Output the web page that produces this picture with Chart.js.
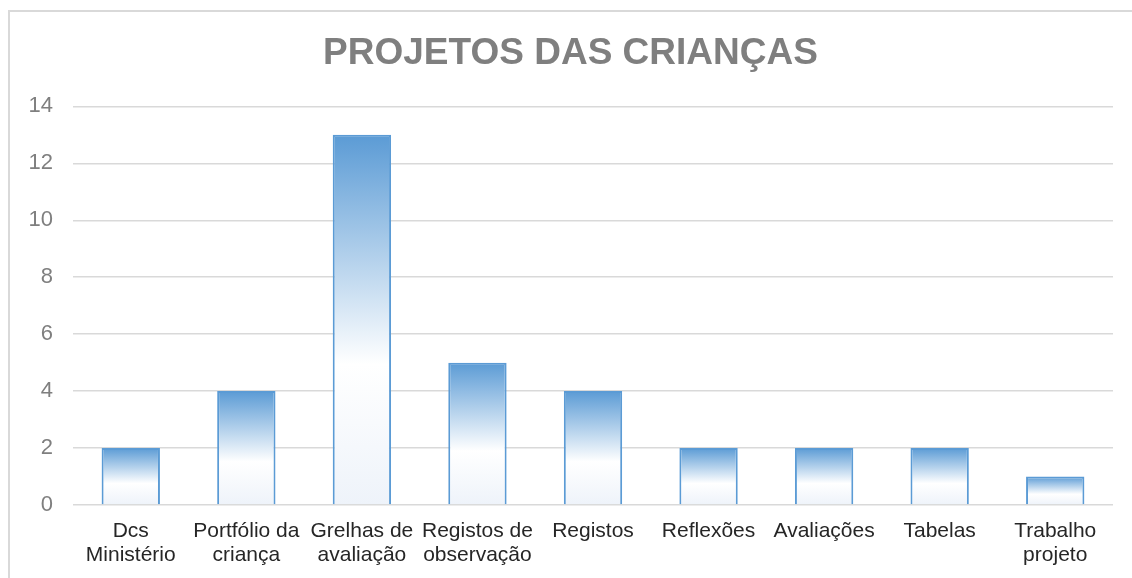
<!DOCTYPE html>
<html>
<head>
<meta charset="utf-8">
<script src="https://cdn.jsdelivr.net/npm/chart.js@4/dist/chart.umd.min.js"></script>
<style>
html,body{margin:0;padding:0;background:#fff;}
#wrap{width:1132px;height:578px;position:relative;}
</style>
</head>
<body>
<div id="wrap"><canvas id="c" width="1132" height="578"></canvas></div>
<script>
const categories = [
  ["Dcs", "Ministério"],
  ["Portfólio da", "criança"],
  ["Grelhas de", "avaliação"],
  ["Registos de", "observação"],
  "Registos",
  "Reflexões",
  "Avaliações",
  "Tabelas",
  ["Trabalho", "projeto"]
];
const values = [2, 4, 13, 5, 4, 2, 2, 2, 1];
const yTicks = [0, 2, 4, 6, 8, 10, 12, 14];
const chartTitle = "PROJETOS DAS CRIANÇAS";

const FONT = "'Liberation Sans', Arial, sans-serif";

const frame = {
  id: 'frame',
  beforeDraw(chart) {
    const ctx = chart.ctx;
    ctx.save();
    ctx.strokeStyle = '#d9d9d9';
    ctx.lineWidth = 2;
    ctx.beginPath();
    ctx.moveTo(9, 578);
    ctx.lineTo(9, 11);
    ctx.lineTo(1132, 11);
    ctx.stroke();
    ctx.restore();
  }
};

function barFill(context) {
  const chart = context.chart;
  const ys = chart.scales && chart.scales.y;
  if (context.type !== 'data' || !ys) return '#5b9bd5';
  const top = ys.getPixelForValue(context.raw);
  const bottom = ys.getPixelForValue(0);
  if (!isFinite(top) || !isFinite(bottom) || top === bottom) return '#5b9bd5';
  const g = chart.ctx.createLinearGradient(0, top, 0, bottom);
  g.addColorStop(0, '#5b9bd5');
  g.addColorStop(0.62, '#ffffff');
  g.addColorStop(1, '#eef3fa');
  return g;
}

new Chart(document.getElementById('c'), {
  type: 'bar',
  data: {
    labels: categories,
    datasets: [{
      data: values,
      backgroundColor: barFill,
      borderColor: '#5b9bd5',
      borderWidth: 2,
      categoryPercentage: 1,
      barPercentage: 0.505
    }]
  },
  options: {
    responsive: false,
    animation: false,
    devicePixelRatio: 1,
    layout: { padding: { left: 28, right: 19, top: 0, bottom: 0 } },
    plugins: {
      legend: { display: false },
      tooltip: { enabled: false },
      title: {
        display: true,
        text: chartTitle,
        color: '#7f7f7f',
        font: { family: FONT, size: 37, weight: 'bold' },
        padding: { top: 32, bottom: 30 }
      }
    },
    scales: {
      x: {
        grid: { display: false, drawTicks: false },
        border: { display: false },
        ticks: {
          color: '#262626',
          font: { family: FONT, size: 21, lineHeight: 1.15 },
          padding: 14,
          maxRotation: 0,
          autoSkip: false
        },
        afterFit(scale) { scale.height = 578 - 505; }
      },
      y: {
        min: 0,
        max: 14,
        afterBuildTicks(scale) { scale.ticks = yTicks.map(v => ({ value: v })); },
        grid: { color: '#d9d9d9', lineWidth: 1.5, drawTicks: false },
        border: { display: false },
        ticks: {
          color: '#7f7f7f',
          font: { family: FONT, size: 22 },
          padding: 20
        },
        afterFit(scale) { scale.width = 73 - 28; }
      }
    }
  },
  plugins: [frame]
});
</script>
</body>
</html>
